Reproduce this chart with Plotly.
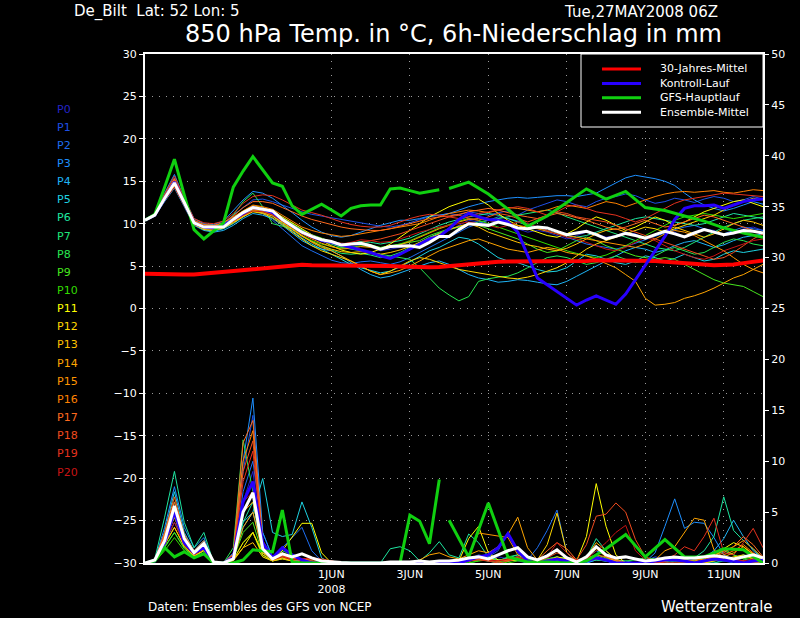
import pandas as pd
import plotly.graph_objects as go

# 6-hourly steps from 27 May 2008 06Z to 12 Jun 2008 00Z
times = pd.date_range("2008-05-27 06:00", periods=64, freq="6h")

member_names = [f"P{i}" for i in range(21)]
member_colors = ["#2424c8", "#1e50e6", "#1e6ef0", "#1e90ff", "#1eb4f5", "#1ed2e1",
                 "#1ee6a0", "#1ee678", "#28e650", "#46e61e", "#32dc00", "#ffff00",
                 "#ffd700", "#ffc000", "#ffa500", "#ff9600", "#ff8200", "#ff6a1e",
                 "#f04b1e", "#e6321e", "#c81414"]

# 850 hPa temperature of the ensemble members (°C)
t_p0 = [10.4, 11.0, 13.2, 15.0, 12.6, 10.2, 9.8, 9.6, 9.8, 10.6, 11.4, 12.0, 11.8, 11.4, 10.6, 9.8,
        9.0, 8.4, 8.0, 7.6, 7.2, 7.3, 7.5, 7.2, 6.8, 7.0, 7.2, 7.4, 7.6, 8.2, 8.8, 9.2,
        9.8, 10.4, 10.2, 9.9, 10.4, 10.0, 9.4, 9.0, 9.2, 9.0, 8.6, 8.2, 8.6, 9.0, 8.8, 8.4,
        8.6, 9.0, 8.8, 8.2, 8.6, 9.2, 9.0, 8.4, 8.8, 9.4, 9.2, 8.6, 8.8, 9.4, 9.6, 9.2]
t_p1 = [10.4, 11.1, 13.4, 15.4, 12.8, 10.4, 9.9, 9.8, 10.1, 11.0, 12.0, 12.8, 12.9, 12.6, 12.2, 11.8,
        11.4, 11.1, 10.9, 10.7, 10.5, 10.3, 10.1, 9.9, 9.7, 9.6, 9.8, 10.1, 10.5, 10.8, 11.0, 11.2,
        11.0, 11.4, 11.2, 11.0, 11.3, 11.5, 11.0, 11.6, 12.0, 12.4, 12.8, 12.6, 12.2, 12.0, 12.6, 13.0,
        13.2, 13.5, 13.3, 12.8, 12.4, 12.6, 13.0, 12.8, 12.5, 12.9, 13.2, 13.0, 12.6, 12.8, 13.2, 12.9]
t_p2 = [10.4, 11.0, 13.1, 15.0, 12.6, 10.2, 9.6, 9.5, 9.8, 10.4, 11.1, 11.6, 11.2, 10.4, 9.4, 8.4,
        7.4, 6.8, 6.2, 5.7, 5.4, 5.3, 5.5, 5.6, 5.4, 5.2, 5.5, 6.0, 6.6, 7.2, 7.8, 8.4,
        9.0, 9.6, 10.0, 10.4, 10.8, 10.6, 10.3, 10.0, 9.6, 9.2, 8.8, 8.4, 8.0, 7.6, 7.4, 7.2,
        7.0, 7.3, 7.7, 8.1, 8.5, 8.9, 9.3, 9.6, 9.8, 9.4, 9.0, 8.8, 9.2, 9.6, 9.4, 9.2]
t_p3 = [10.4, 11.2, 13.6, 15.8, 13.0, 10.6, 10.0, 9.9, 10.3, 11.5, 12.8, 13.8, 13.6, 13.0, 12.2, 11.3,
        10.4, 9.6, 9.0, 8.6, 8.4, 8.6, 9.0, 9.4, 9.8, 10.1, 10.4, 10.4, 10.6, 10.9, 11.0, 11.2,
        11.6, 12.0, 12.3, 12.6, 12.8, 13.0, 13.1, 13.0, 13.1, 13.2, 13.3, 13.3, 13.2, 13.4, 13.6, 14.2,
        14.8, 15.4, 15.7, 15.5, 15.3, 15.0, 14.5, 13.6, 12.8, 12.2, 11.8, 11.5, 11.8, 12.2, 12.6, 12.3]
t_p4 = [10.4, 10.9, 12.6, 14.2, 12.0, 9.8, 9.2, 9.0, 9.2, 9.8, 10.6, 11.2, 11.0, 10.6, 9.8, 8.9,
        8.0, 7.4, 7.0, 6.8, 6.2, 5.4, 4.6, 4.0, 3.6, 3.8, 4.2, 4.6, 5.0, 5.4, 5.6, 5.2,
        4.6, 4.0, 3.6, 3.4, 3.1, 3.2, 3.4, 3.3, 3.1, 2.9, 2.8, 3.2, 3.8, 4.4, 5.0, 5.6,
        6.2, 6.8, 7.2, 7.0, 6.6, 6.9, 7.4, 7.8, 8.0, 7.6, 7.2, 7.5, 8.0, 8.4, 8.6, 8.8]
t_p5 = [10.3, 10.9, 12.8, 14.6, 12.2, 9.9, 9.3, 9.1, 9.4, 10.0, 10.8, 11.5, 11.3, 10.9, 10.0, 9.1,
        8.3, 7.6, 7.0, 6.4, 5.8, 5.2, 4.8, 4.5, 4.2, 4.4, 4.9, 5.5, 6.2, 6.8, 7.2, 7.8,
        8.4, 8.2, 7.6, 6.8, 6.0, 5.6, 5.4, 5.0, 4.6, 4.3, 4.4, 4.8, 5.6, 6.4, 6.2, 5.8,
        5.4, 5.2, 5.6, 6.2, 6.0, 5.6, 5.9, 6.4, 6.0, 5.6, 5.8, 6.4, 6.8, 6.6, 6.8, 7.0]
t_p6 = [10.4, 11.1, 13.2, 15.1, 12.7, 10.3, 9.8, 9.7, 10.0, 10.6, 11.3, 11.9, 11.7, 11.3, 10.6, 9.9,
        9.2, 8.6, 8.2, 7.8, 7.6, 7.7, 7.9, 7.8, 7.6, 7.8, 8.0, 8.3, 8.8, 9.3, 9.8, 10.2,
        10.5, 10.8, 11.0, 11.2, 11.0, 10.6, 10.2, 9.8, 9.5, 9.2, 8.9, 8.6, 8.4, 8.6, 9.0, 9.4,
        9.8, 10.2, 10.6, 10.8, 10.6, 10.4, 10.2, 10.0, 9.8, 10.0, 10.4, 10.8, 11.2, 11.0, 10.8, 10.6]
t_p7 = [10.5, 11.1, 13.1, 15.0, 12.6, 10.2, 9.7, 9.6, 9.9, 10.5, 11.2, 11.8, 11.6, 11.2, 10.4, 9.5,
        8.6, 7.9, 7.3, 6.9, 6.5, 6.4, 6.5, 6.3, 6.0, 6.2, 6.6, 7.2, 7.8, 8.4, 8.9, 9.3,
        9.6, 9.9, 10.2, 10.4, 10.6, 10.8, 11.0, 11.2, 11.4, 11.6, 11.3, 10.8, 10.4, 10.0, 9.6, 9.2,
        8.8, 8.4, 8.0, 7.6, 7.2, 7.0, 6.8, 7.2, 7.8, 8.4, 9.0, 9.6, 10.0, 10.4, 10.6, 10.8]
t_p8 = [10.4, 11.0, 12.8, 14.4, 12.2, 10.0, 9.5, 9.4, 9.8, 11.0, 12.6, 13.6, 12.0, 10.0, 9.7, 9.4,
        8.9, 8.4, 8.0, 7.6, 7.2, 7.0, 6.8, 6.6, 6.4, 6.2, 6.0, 5.8, 4.8, 3.6, 2.4, 1.6,
        0.9, 1.4, 3.2, 3.5, 3.7, 3.8, 4.2, 4.8, 5.4, 6.0, 6.2, 6.0, 5.6, 5.2, 5.4, 5.8,
        6.2, 5.8, 5.4, 5.6, 6.2, 6.8, 7.2, 6.8, 6.4, 6.6, 7.2, 7.8, 8.2, 8.0, 7.6, 7.4]
t_p9 = [10.5, 11.2, 13.4, 15.2, 12.8, 10.3, 9.7, 9.6, 9.9, 10.6, 11.3, 11.8, 11.6, 11.3, 10.7, 10.0,
        9.2, 8.7, 8.3, 7.9, 7.5, 7.6, 7.8, 7.5, 7.2, 7.4, 7.6, 7.8, 8.0, 8.6, 9.0, 9.4,
        9.6, 10.0, 9.8, 9.4, 9.0, 8.6, 8.2, 7.6, 7.0, 6.6, 6.8, 7.4, 8.0, 8.4, 8.0, 7.4,
        7.0, 6.6, 6.2, 6.0, 5.8, 6.0, 5.8, 5.2, 4.6, 4.0, 3.4, 3.0, 2.8, 2.6, 2.0, 1.4]
t_p10 = [10.4, 11.0, 12.9, 14.7, 12.4, 10.0, 9.5, 9.4, 9.7, 10.3, 11.0, 11.6, 11.4, 11.0, 10.2, 9.4,
         8.6, 8.0, 7.6, 7.3, 7.1, 7.2, 7.4, 7.3, 7.1, 7.3, 7.6, 8.0, 8.5, 9.0, 9.5, 9.9,
         10.3, 10.6, 10.4, 10.0, 9.6, 9.2, 8.8, 8.4, 8.0, 7.6, 7.2, 6.8, 6.5, 6.2, 6.0, 6.3,
         6.8, 7.4, 8.0, 8.6, 9.2, 9.8, 10.4, 10.8, 11.0, 11.2, 11.0, 10.8, 10.6, 10.8, 11.0, 11.2]
t_p11 = [10.4, 11.1, 13.2, 15.2, 12.7, 10.3, 9.7, 9.6, 9.9, 10.7, 11.5, 12.1, 11.9, 11.5, 10.8, 10.1,
         9.3, 8.6, 8.0, 7.4, 6.9, 6.6, 6.4, 6.6, 7.0, 7.6, 8.4, 9.2, 10.0, 10.8, 11.4, 12.0,
         12.4, 12.8, 12.9, 12.2, 11.2, 10.4, 9.8, 9.4, 9.0, 8.6, 8.4, 8.8, 9.4, 10.2, 10.8, 10.4,
         9.8, 9.2, 9.6, 10.2, 10.8, 10.4, 9.8, 10.2, 10.8, 11.4, 11.8, 12.2, 12.6, 12.8, 12.4, 12.0]
t_p12 = [10.4, 11.0, 12.8, 14.4, 12.2, 9.9, 9.3, 9.2, 9.5, 10.1, 10.8, 11.4, 11.2, 10.7, 9.9, 9.0,
         8.2, 7.4, 6.8, 6.4, 6.0, 5.6, 5.0, 4.4, 4.0, 4.4, 5.0, 5.6, 6.0, 5.8, 5.4, 5.0,
         4.6, 4.4, 4.2, 4.0, 3.8, 3.6, 3.5, 3.7, 4.0, 4.4, 4.8, 5.4, 6.2, 7.0, 7.6, 8.0,
         8.4, 8.8, 9.2, 9.6, 9.4, 9.0, 9.4, 9.8, 10.2, 10.6, 11.0, 11.6, 12.2, 12.6, 13.0, 12.8]
t_p13 = [10.4, 11.0, 13.0, 14.8, 12.4, 10.1, 9.6, 9.4, 9.6, 10.2, 10.9, 11.5, 11.3, 10.9, 10.1, 9.3,
         8.5, 7.9, 7.4, 7.0, 6.7, 6.6, 6.7, 6.6, 6.4, 6.6, 6.9, 7.3, 7.8, 8.3, 8.8, 9.3,
         9.7, 10.0, 9.6, 9.0, 8.6, 8.2, 7.8, 7.5, 7.3, 7.0, 6.8, 7.1, 7.6, 8.2, 8.8, 9.2,
         9.4, 9.0, 8.6, 8.2, 8.6, 9.2, 9.6, 9.2, 8.8, 8.4, 8.8, 9.4, 10.0, 10.4, 10.2, 9.8]
t_p14 = [10.4, 11.0, 12.9, 14.6, 12.3, 10.0, 9.4, 9.3, 9.6, 10.3, 11.0, 11.6, 11.4, 11.0, 10.2, 9.4,
         8.5, 7.8, 7.2, 6.8, 6.2, 5.6, 5.0, 4.4, 4.0, 4.2, 4.5, 5.0, 5.6, 6.2, 6.8, 7.2,
         7.6, 8.0, 8.2, 7.8, 7.4, 7.0, 6.8, 6.6, 6.9, 7.2, 7.0, 6.6, 6.4, 6.2, 5.8, 5.3,
         4.8, 4.0, 3.2, 1.2, 0.4, 0.5, 0.7, 1.2, 1.5, 1.9, 2.4, 3.0, 3.6, 4.0, 4.6, 5.2]
t_p15 = [10.4, 11.0, 13.0, 14.9, 12.5, 10.1, 9.6, 9.5, 9.8, 10.4, 11.1, 11.7, 11.5, 11.1, 10.4, 9.6,
         8.8, 8.2, 7.7, 7.3, 7.0, 7.1, 7.3, 7.2, 7.0, 7.2, 7.5, 7.9, 8.4, 8.9, 9.4, 9.8,
         10.2, 10.5, 10.6, 10.4, 10.2, 10.0, 9.8, 9.6, 9.4, 9.1, 8.8, 8.6, 8.4, 8.2, 8.0, 7.8,
         7.6, 7.4, 7.2, 7.6, 8.2, 8.8, 9.2, 9.0, 8.6, 8.0, 7.4, 6.8, 6.0, 5.2, 4.6, 4.2]
t_p16 = [10.4, 11.1, 13.3, 15.3, 12.8, 10.4, 9.9, 9.8, 10.1, 10.8, 11.6, 12.2, 12.0, 11.7, 11.0, 10.3,
         9.6, 9.2, 8.9, 8.7, 8.5, 8.6, 8.8, 9.0, 9.2, 9.4, 9.6, 9.8, 10.0, 10.4, 10.8, 11.2,
         11.4, 11.6, 11.5, 11.3, 11.6, 11.9, 11.8, 11.6, 11.4, 11.6, 12.0, 12.2, 12.0, 11.8, 12.2, 12.6,
         12.4, 12.0, 12.4, 12.8, 13.2, 13.5, 13.7, 13.8, 13.7, 13.8, 13.9, 13.7, 13.6, 13.8, 14.0, 13.9]
t_p17 = [10.4, 11.1, 13.2, 15.2, 12.7, 10.3, 9.8, 9.7, 10.1, 10.9, 11.9, 12.6, 12.6, 12.4, 11.9, 11.4,
         10.9, 10.5, 10.2, 9.9, 9.6, 9.4, 9.3, 9.2, 9.2, 9.4, 9.7, 10.0, 10.3, 10.6, 10.8, 10.9,
         11.1, 11.4, 11.6, 11.8, 11.6, 11.3, 11.0, 10.8, 10.6, 10.9, 11.2, 11.0, 10.7, 10.4, 10.0, 9.6,
         9.3, 9.6, 10.0, 10.4, 10.0, 9.6, 9.8, 10.2, 10.6, 11.0, 10.8, 10.4, 10.0, 9.6, 9.2, 8.8]
t_p18 = [10.4, 11.0, 13.1, 15.1, 12.6, 10.2, 9.7, 9.5, 9.8, 10.5, 11.2, 11.8, 11.6, 11.2, 10.5, 9.8,
         9.1, 8.6, 8.2, 7.9, 7.7, 7.6, 7.8, 8.0, 8.2, 8.5, 8.8, 9.2, 9.6, 10.0, 10.4, 10.8,
         11.0, 10.6, 10.4, 10.8, 11.2, 11.0, 10.6, 10.2, 10.6, 11.0, 11.4, 11.2, 10.8, 10.6, 10.4, 10.2,
         9.8, 9.4, 9.0, 8.6, 8.2, 7.8, 7.4, 7.0, 6.6, 6.2, 5.8, 6.0, 6.6, 7.4, 8.2, 8.8]
t_p19 = [10.4, 11.2, 13.5, 15.6, 13.0, 10.6, 10.1, 10.0, 10.3, 11.2, 12.4, 13.2, 13.4, 13.3, 12.8, 12.2,
         11.6, 11.3, 11.0, 10.6, 10.2, 9.9, 9.7, 9.6, 9.6, 9.8, 10.2, 10.6, 10.9, 11.1, 11.0, 10.8,
         10.6, 10.8, 11.2, 11.4, 11.6, 11.8, 12.0, 11.8, 11.4, 11.0, 11.4, 12.0, 12.2, 11.8, 11.4, 11.2,
         11.0, 10.6, 10.2, 10.6, 11.2, 11.8, 12.4, 12.8, 13.0, 13.2, 13.4, 13.6, 13.5, 13.4, 13.3, 13.2]
t_p20 = [10.3, 10.9, 12.7, 14.3, 12.1, 9.9, 9.5, 9.4, 9.7, 10.3, 11.0, 11.5, 11.4, 11.0, 10.3, 9.6,
         8.8, 8.3, 8.0, 7.8, 7.6, 7.8, 8.1, 8.0, 7.8, 7.9, 8.2, 8.6, 9.0, 9.3, 9.6, 9.8,
         10.0, 10.2, 10.0, 9.8, 9.5, 9.8, 10.2, 10.0, 9.6, 9.2, 8.8, 8.4, 8.2, 7.8, 7.4, 7.0,
         6.8, 7.2, 7.8, 8.4, 8.0, 7.4, 6.8, 6.4, 6.0, 5.8, 6.2, 6.8, 7.2, 7.6, 8.0, 8.2]

# 6h precipitation of the ensemble members (mm)
r_p0 = [0, 0.2, 2.5, 5.5, 2.5, 1, 2, 0, 0, 0.5, 6, 9, 1.5, 0.3, 0.5, 0.3,
        0.2, 0, 0, 0, 0, 0, 0, 0, 0, 0, 0, 0, 0, 0, 0, 0.2,
        0.3, 0.6, 0.4, 0.2, 0.6, 0.4, 0.2, 0, 0, 0.3, 0.5, 0.2, 0, 0.3, 0.6, 0.4,
        0.2, 0, 0, 0, 0.3, 0.5, 0.4, 0.2, 0, 0, 0.2, 0.4, 0.3, 0, 0.2, 0.4]
r_p1 = [0, 0.3, 3, 6, 2.8, 1.2, 2.2, 0, 0, 0.8, 9, 14.5, 2, 0.5, 0.8, 0.4,
        0.2, 0, 0, 0, 0, 0, 0, 0, 0, 0, 0, 0, 0, 0, 0, 0,
        0, 0.4, 0.8, 0.6, 1.2, 2.9, 1.0, 0.2, 0, 0, 0.3, 0.2, 0, 0, 0.4, 0.2,
        0, 0, 0, 0.2, 0.6, 0.4, 0.2, 0, 0, 0.3, 0.5, 0.2, 0, 0, 0.2, 0.3]
r_p2 = [0, 0.2, 1.8, 4, 2, 0.8, 1.5, 0, 0, 0.3, 7, 10, 3, 0.5, 1.5, 2.5,
        3.5, 1.2, 0.2, 0, 0, 0, 0, 0, 0, 0, 0, 0, 0, 0, 0, 0,
        0, 0.2, 0.5, 0.3, 0.2, 0.4, 0.6, 0.3, 1.5, 3.2, 5.2, 1.0, 0.2, 0, 0.3, 0.2,
        0, 0, 0, 0, 0.2, 0.3, 0.5, 0.4, 0.2, 0, 0, 0.3, 0.5, 0.2, 0, 0.1]
r_p3 = [0, 0.3, 3.5, 7.5, 3.5, 1.5, 2.5, 0, 0, 1, 10, 16.2, 3, 0.6, 1, 0.5,
        0.3, 0, 0, 0, 0, 0, 0, 0, 0, 0, 0, 0, 0, 0, 0, 0,
        0, 0.2, 0.3, 0.5, 0.3, 0.2, 0.4, 0.2, 0, 0.2, 0.4, 0.3, 0, 0.5, 1.2, 0.8,
        0.2, 0, 0, 0.1, 1.0, 3.6, 6.3, 3.4, 4.0, 3.9, 2.5, 0.8, 0.2, 0, 0.3, 0.2]
r_p4 = [0, 0.2, 2, 5, 2.2, 1, 1.8, 0, 0, 0.4, 3.5, 5, 1.2, 0.3, 0.6, 0.2,
        0.3, 0.2, 0, 0, 0, 0, 0, 0, 0, 0, 0, 0, 0, 0, 0, 0,
        0, 0.2, 0.4, 0.2, 0, 0.2, 0.3, 0, 0, 0, 0.2, 0.3, 0, 0, 0.3, 0.2,
        0, 0, 0, 0, 0, 0.2, 0.3, 0.2, 0.3, 0.5, 1.2, 2.4, 4.2, 2.6, 1.2, 0.4]
r_p5 = [0, 0.3, 3, 7, 3, 1.2, 2.2, 0, 0, 0.6, 4, 5, 8.3, 3, 2.6, 2.8,
        6.0, 3.5, 0.5, 0, 0, 0, 0, 0, 0, 0, 0, 0, 0, 0, 0, 0,
        0.2, 0.3, 0.6, 0.4, 0.2, 0.5, 0.8, 0.4, 0.2, 0.4, 0.6, 0.3, 0, 0.4, 0.7, 0.3,
        0, 0, 0, 0, 0.2, 0.3, 0.2, 0, 0, 0, 0.2, 0.4, 0.3, 0, 0, 0.2]
r_p6 = [0, 0.4, 4.5, 9, 4, 1.5, 3, 0, 0, 0.4, 4, 6, 1, 0.3, 0.6, 0.3,
        0, 0, 0, 0, 0, 0, 0, 0, 0, 1.4, 1.6, 1.2, 0.2, 1.0, 2.1, 0.8,
        0.5, 2.85, 2.0, 0.6, 0.3, 0.2, 0.5, 0.2, 0, 0.2, 0.4, 0.6, 0.3, 0.5, 2.4, 1.2,
        0.3, 0.2, 0, 0, 0.2, 0.4, 0.3, 0.5, 0.5, 1.2, 2.6, 6.5, 3.2, 2.2, 1.4, 0.4]
r_p7 = [0, 0.2, 2.2, 4.5, 2, 0.8, 1.6, 0, 0, 0.6, 5, 6, 1.2, 0.3, 0.6, 0.2,
        0, 0, 0, 0, 0, 0, 0, 0, 0, 0, 0, 0, 0, 0, 0, 0,
        0, 0.3, 0.5, 0.3, 0.2, 0.6, 0.8, 0.3, 0, 0.2, 0.3, 0.2, 0, 0.3, 0.5, 0.2,
        0, 0, 0, 0, 0, 0, 0.2, 0.3, 0.2, 0, 0, 0.2, 0.4, 0.8, 0.6, 0.2]
r_p8 = [0, 0.2, 1.5, 3, 1.5, 0.6, 1.2, 0, 0, 1.5, 12.1, 7, 1, 0.4, 1.2, 0.8,
        0.3, 0, 0, 0, 0, 0, 0, 0, 0, 0, 0, 0, 0, 0, 0, 0,
        0, 0, 0.2, 0.4, 0.3, 0.2, 0.3, 0.1, 0, 0, 0.2, 0.3, 0.4, 0.2, 0.3, 0.2,
        0, 0.2, 0.3, 0.5, 0.4, 0.2, 0, 0, 0, 0.3, 0.6, 1.2, 0.8, 0.4, 0.2, 0]
r_p9 = [0, 0.2, 1.6, 3, 1.4, 0.6, 1, 0, 0, 0.4, 3, 4, 0.8, 0.2, 0.4, 0.2,
        0, 0, 0, 0, 0, 0, 0, 0, 0, 0, 0, 0, 0, 0, 0, 0,
        0, 0.2, 0.3, 0.2, 0, 0.2, 0.4, 0.2, 0, 0, 0.2, 0.4, 0.2, 0.4, 0.8, 0.5,
        0.2, 0, 0, 0, 0, 0.2, 0.4, 0.3, 0.2, 0.5, 1.0, 1.4, 0.8, 0.4, 0.6, 0.3]
r_p10 = [0, 0.1, 1.2, 2.5, 1.2, 0.5, 0.9, 0, 0, 0.3, 2, 3, 0.6, 0.2, 0.5, 0.2,
         0, 0, 0, 0, 0, 0, 0, 0, 0, 0, 0, 0, 0, 0, 0, 0,
         0, 0, 0.2, 0.3, 0.2, 0, 0.2, 0.3, 0.2, 0.4, 0.6, 0.3, 0, 0.2, 0.5, 0.3,
         0, 0, 0, 0, 0.2, 0.3, 0.2, 0, 0, 0, 0.2, 0.3, 0.5, 0.6, 0.4, 0.2]
r_p11 = [0, 0.3, 2.6, 5, 2.4, 1, 1.8, 0, 0, 0.3, 1.5, 3, 1, 0.5, 1.2, 2.5,
         3.9, 3.9, 1.0, 0, 0, 0, 0, 0, 0, 0, 0, 0, 0, 0, 0, 0,
         0.2, 2.4, 3.6, 1.0, 0.3, 0.2, 0.3, 0.1, 0, 0.2, 0.6, 0.4, 0.2, 2.6, 7.8, 3.6,
         0.8, 0, 0, 0, 0, 0.2, 0.4, 0.3, 0, 0.2, 0.6, 1.4, 2.0, 1.6, 0.8, 0.3]
r_p12 = [0, 0.2, 1.8, 3.5, 1.6, 0.7, 1.2, 0, 0, 0.3, 2, 3, 0.8, 0.2, 0.5, 0.2,
         0, 0, 0, 0, 0, 0, 0, 0, 0, 0, 0, 0, 0, 0, 0, 0,
         0, 0.2, 0.4, 0.3, 0.2, 0.4, 0.5, 0.2, 0.3, 1.8, 4.9, 1.0, 0.2, 0.5, 1.4, 0.6,
         0.2, 0, 0, 0, 0, 0.2, 0.3, 0.2, 0, 0, 0.2, 0.4, 0.6, 0.8, 0.4, 0.2]
r_p13 = [0, 0.2, 1.8, 3.5, 1.7, 0.7, 1.3, 0, 0, 0.2, 1.5, 2, 0.6, 0.2, 0.4, 0.2,
         0, 0, 0, 0, 0, 0, 0, 0, 0, 0, 0, 0, 0, 0, 0, 0,
         0, 0.3, 0.6, 0.4, 0.2, 0.3, 0.4, 0.2, 0, 0.2, 0.4, 0.2, 0, 0.6, 2.0, 1.2,
         0.4, 0, 0, 0, 0.2, 0.4, 0.3, 0.2, 0, 0, 0.3, 0.6, 1.0, 1.6, 0.9, 0.3]
r_p14 = [0, 0.2, 2.2, 4.5, 2, 0.8, 1.6, 0, 0, 0.4, 3.5, 5, 1, 0.3, 0.6, 0.3,
         0, 0, 0, 0, 0, 0, 0, 0, 0, 0, 0, 0, 0.3, 0.8, 1.0, 0.6,
         0.4, 0.8, 1.2, 1.0, 1.6, 2.8, 4.5, 1.5, 0.3, 0.2, 0, 0, 0, 0.3, 0.5, 0.3,
         0, 0, 0, 0, 0.3, 1.2, 1.6, 3.0, 4.4, 4.2, 1.3, 0.5, 0.3, 0.2, 0, 0]
r_p15 = [0, 0.2, 2.4, 5, 2.2, 0.9, 1.7, 0, 0, 0.5, 5, 6, 1.4, 0.4, 0.7, 0.3,
         0, 0, 0, 0, 0, 0, 0, 0, 0, 0, 0, 0, 0, 0, 0, 0,
         0.2, 0.6, 2.95, 2.8, 2.6, 2.5, 0.8, 0.3, 0, 0.2, 0.4, 0.3, 0, 0.3, 0.6, 0.4,
         0.2, 0, 0, 0, 0, 0.2, 0.4, 0.3, 0.2, 0.4, 0.8, 1.2, 1.6, 2.2, 1.4, 0.5]
r_p16 = [0, 0.3, 2.8, 6, 2.6, 1.1, 2, 0, 0, 0.8, 10, 13, 2, 0.5, 0.8, 0.4,
         0.3, 0.4, 0.3, 0.2, 0, 0, 0, 0, 0, 0, 0, 0, 0, 0, 0, 0,
         0, 0.3, 0.5, 0.3, 0.2, 0.4, 0.6, 0.2, 0, 0.3, 0.5, 0.3, 0, 0.2, 0.4, 0.3,
         0, 0, 0, 0, 0.2, 0.4, 0.6, 0.5, 0.4, 0.3, 0.5, 0.8, 1.2, 1.8, 1.0, 0.4]
r_p17 = [0, 0.3, 3, 6.5, 2.8, 1.2, 2.2, 0, 0, 0.9, 11.8, 14, 2.2, 0.6, 1, 0.5,
         0.3, 0.2, 0, 0, 0, 0, 0, 0, 0, 0, 0, 0, 0, 0, 0, 0,
         0, 0.2, 0.4, 0.3, 0.2, 0.3, 0.5, 0.2, 0.3, 1.2, 2.0, 1.4, 0.3, 0.5, 0.8, 0.6,
         0.3, 0, 0, 0, 0, 0.2, 0.3, 0.2, 0, 0.3, 0.6, 1.0, 1.6, 2.6, 1.8, 0.6]
r_p18 = [0, 0.3, 2.6, 5.5, 2.5, 1, 1.9, 0, 0, 0.7, 9, 12, 1.8, 0.4, 0.8, 0.4,
         0.2, 0.3, 0.2, 0, 0, 0, 0, 0, 0, 0, 0, 0, 0, 0, 0, 0,
         0, 0.2, 0.4, 0.2, 0.2, 0.3, 0.5, 0.2, 0.2, 0.5, 1.0, 0.6, 0.3, 1.8, 4.6, 4.8,
         5.9, 5.0, 2.3, 0.6, 0.2, 0, 0, 0, 0, 0.2, 0.4, 0.6, 0.4, 0.2, 0, 0]
r_p19 = [0, 0.3, 2.5, 5, 2.3, 1, 1.8, 0, 0, 0.7, 8, 11, 1.6, 0.4, 0.7, 0.4,
         0.4, 0.5, 0.4, 0.2, 0, 0, 0, 0, 0, 0, 0, 0, 0, 0, 0, 0,
         0, 0.2, 0.3, 0.2, 0, 0.2, 0.4, 0.2, 0, 0.2, 0.4, 0.2, 0, 0.2, 0.4, 0.3,
         0, 0, 0, 0, 0, 0.3, 0.8, 1.6, 1.2, 2.6, 4.4, 1.0, 0.8, 2.0, 3.4, 1.5]
r_p20 = [0, 0.2, 2, 4, 1.8, 0.8, 1.4, 0, 0, 0.5, 6, 7, 1.2, 0.3, 0.6, 0.3,
         0.4, 0.5, 0.3, 0.2, 0, 0, 0, 0, 0, 0, 0, 0, 0, 0, 0, 0,
         0, 0.2, 0.5, 0.3, 0.2, 0.4, 0.6, 0.2, 0.2, 0.6, 2.0, 1.0, 0.3, 0.4, 1.2, 2.0,
         3.0, 3.7, 1.2, 0.3, 0, 0, 0, 0, 0, 0.2, 0.3, 0.5, 0.3, 0.2, 0.4, 0.2]

# 30-year climatology of 850 hPa temperature
clim_temp = [4.1, 4.05, 4.0, 4.0, 4.0, 4.0, 4.1, 4.2, 4.3, 4.4, 4.55, 4.7, 4.8, 4.9, 5.0, 5.1,
             5.15, 5.1, 5.1, 5.1, 5.1, 5.1, 5.1, 5.05, 5.0, 5.0, 4.95, 4.9, 4.85, 4.85, 4.9, 5.0,
             5.1, 5.25, 5.4, 5.5, 5.5, 5.55, 5.55, 5.55, 5.55, 5.6, 5.6, 5.6, 5.6, 5.6, 5.7, 5.7,
             5.7, 5.7, 5.7, 5.7, 5.6, 5.5, 5.45, 5.4, 5.3, 5.2, 5.1, 5.1, 5.2, 5.35, 5.5, 5.65]

# control run
ctrl_temp = [10.4, 11.0, 13.0, 14.9, 12.5, 10.1, 9.6, 9.5, 9.8, 10.5, 11.3, 11.9, 11.7, 11.3, 10.5, 9.7,
             9.0, 8.5, 8.0, 7.8, 7.5, 7.2, 6.9, 6.6, 6.2, 5.9, 6.4, 7.0, 7.6, 8.2, 8.5, 9.4,
             10.5, 11.2, 10.8, 10.5, 10.4, 10.2, 9.0, 6.2, 3.6, 2.8, 2.0, 1.2, 0.4, 1.0, 1.5, 1.0,
             0.5, 1.7, 3.4, 5.1, 6.8, 8.5, 10.5, 11.8, 12.1, 12.1, 12.2, 11.8, 12.2, 12.6, 12.8, 12.9]
ctrl_rain = [0, 0.2, 2, 5, 2, 1, 1.5, 0, 0, 0.5, 6, 8, 2, 0.5, 1.5, 0.8,
             0.3, 0, 0, 0, 0, 0, 0, 0, 0, 0, 0, 0, 0, 0, 0, 0,
             0, 0.3, 0.6, 0.8, 1.5, 2.9, 1.2, 0.2, 0, 0.2, 0.4, 0.2, 0, 0.2, 0.5, 0.3,
             0, 0, 0, 0, 0.2, 0.3, 0.3, 0.2, 0, 0.2, 0.4, 0.3, 0.2, 0, 0.2, 0.3]

# GFS main run: 6-hourly up to step 30, then 12-hourly
gfs_temp_hi = [10.4, 11.1, 14.3, 17.6, 13.4, 9.3, 8.2, 9.2, 10.1, 14.3, 16.2, 17.9, 16.3, 14.8, 14.4, 12.1,
               11.1, 11.7, 12.3, 11.6, 10.9, 11.8, 12.1, 12.2, 12.2, 14.1, 14.2, 13.9, 13.6, 13.8, 14.0]
gfs_rain_hi = [0, 0.2, 1.5, 0.6, 1.1, 0.5, 0.9, 0, 0, 0, 0.3, 1.3, 1.2, 1.1, 5.2, 0.1,
               0, 0, 0, 0, 0, 0, 0, 0, 0, 0, 0, 4.7, 4.1, 1.9, 8.2]
gfs_temp_lo = [14.15, 14.9, 13.5, 11.7, 9.7, 10.9, 12.5, 14.1, 12.9, 13.8, 11.9, 11.55, 10.9, 10.3, 9.5, 8.9, 8.4]
gfs_rain_lo = [4.2, 0.6, 5.9, 0.6, 0.1, 0.1, 0, 0.2, 1.4, 2.8, 0.6, 2.3, 0.6, 0.6, 1.4, 1.3, 0]

# ensemble mean
mean_temp = [10.4, 11.0, 13.0, 14.8, 12.5, 10.1, 9.6, 9.6, 9.6, 10.5, 11.3, 11.9, 11.7, 11.5, 10.5, 9.8,
             9.0, 8.5, 8.1, 7.9, 7.5, 7.6, 7.7, 7.4, 7.0, 7.3, 7.35, 7.4, 7.2, 7.8, 8.5, 8.5,
             9.3, 10.0, 9.9, 9.8, 10.2, 9.9, 9.5, 9.4, 9.6, 9.5, 9.1, 8.7, 8.9, 9.1, 8.7, 8.2,
             8.5, 8.85, 8.6, 8.3, 8.7, 9.1, 8.8, 8.45, 8.9, 9.3, 9.0, 8.7, 8.9, 9.2, 9.1, 8.9]
mean_rain = [0, 0.3, 2.2, 5.6, 2.4, 1.0, 1.9, 0.1, 0, 0.4, 5.0, 6.9, 1.4, 0.4, 0.9, 0.6,
             0.9, 0.5, 0.2, 0.1, 0.05, 0, 0, 0, 0, 0.1, 0.1, 0.1, 0.2, 0.1, 0.2, 0.2,
             0.3, 0.5, 0.6, 0.4, 0.8, 1.2, 1.5, 0.6, 0.3, 0.7, 1.3, 0.5, 0.1, 0.6, 1.6, 0.8,
             0.5, 0.6, 0.4, 0.2, 0.3, 0.5, 0.6, 0.5, 0.5, 0.6, 0.7, 0.6, 0.4, 0.6, 0.8, 0.5]

tick_days = ["2008-06-01", "2008-06-03", "2008-06-05", "2008-06-07", "2008-06-09", "2008-06-11"]
tick_text = ["1JUN<br>2008", "3JUN", "5JUN", "7JUN", "9JUN", "11JUN"]

legend_names = ["30-Jahres-Mittel", "Kontroll-Lauf", "GFS-Hauptlauf", "Ensemble-Mittel"]
legend_colors = ["#ff0000", "#2800ff", "#10d010", "#ffffff"]

temp_members = [t_p0, t_p1, t_p2, t_p3, t_p4, t_p5, t_p6, t_p7, t_p8, t_p9, t_p10,
                t_p11, t_p12, t_p13, t_p14, t_p15, t_p16, t_p17, t_p18, t_p19, t_p20]
rain_members = [r_p0, r_p1, r_p2, r_p3, r_p4, r_p5, r_p6, r_p7, r_p8, r_p9, r_p10,
                r_p11, r_p12, r_p13, r_p14, r_p15, r_p16, r_p17, r_p18, r_p19, r_p20]

FONT = "DejaVu Sans"
GRID = "#9a9a9a"

fig = go.Figure()

# ensemble members
for name, col, temp in zip(member_names, member_colors, temp_members):
    fig.add_trace(go.Scatter(x=times, y=temp, mode="lines", name=name,
                             line=dict(color=col, width=1)))
for name, col, rain in zip(member_names, member_colors, rain_members):
    fig.add_trace(go.Scatter(x=times, y=rain, mode="lines", name=name, yaxis="y2",
                             line=dict(color=col, width=1)))

# climatology, control, GFS main run, ensemble mean
fig.add_trace(go.Scatter(x=times, y=clim_temp, mode="lines", line=dict(color="#ff0000", width=4)))
fig.add_trace(go.Scatter(x=times, y=ctrl_temp, mode="lines", line=dict(color="#2800ff", width=3)))
fig.add_trace(go.Scatter(x=times, y=ctrl_rain, mode="lines", yaxis="y2",
                         line=dict(color="#2800ff", width=3)))
fig.add_trace(go.Scatter(x=times[:31], y=gfs_temp_hi, mode="lines", line=dict(color="#10d010", width=3)))
fig.add_trace(go.Scatter(x=times[31::2], y=gfs_temp_lo, mode="lines", line=dict(color="#10d010", width=3)))
fig.add_trace(go.Scatter(x=times[:31], y=gfs_rain_hi, mode="lines", yaxis="y2",
                         line=dict(color="#10d010", width=3)))
fig.add_trace(go.Scatter(x=times[31::2], y=gfs_rain_lo, mode="lines", yaxis="y2",
                         line=dict(color="#10d010", width=3)))
fig.add_trace(go.Scatter(x=times, y=mean_temp, mode="lines", line=dict(color="#ffffff", width=3)))
fig.add_trace(go.Scatter(x=times, y=mean_rain, mode="lines", yaxis="y2",
                         line=dict(color="#ffffff", width=3)))


# pixel -> paper coordinates (plot area is x 145..763, y 54..563)
def px(x):
    return (x - 145) / 618


def py(y):
    return (563 - y) / 509


shapes = [dict(type="rect", xref="paper", yref="paper", x0=px(581), x1=1, y0=py(127), y1=1,
               line=dict(color="white", width=1), fillcolor="black", layer="above")]
annotations = []
for i, (txt, col) in enumerate(zip(legend_names, legend_colors)):
    yy = 69 + i * 14.4
    shapes.append(dict(type="line", xref="paper", yref="paper", x0=px(602), x1=px(641),
                       y0=py(yy), y1=py(yy), line=dict(color=col, width=3), layer="above"))
    annotations.append(dict(text=txt, xref="paper", yref="paper", x=px(658), y=py(yy),
                            xanchor="left", yanchor="middle", showarrow=False,
                            font=dict(size=11, color="white", family=FONT)))

for i, (name, col) in enumerate(zip(member_names, member_colors)):
    annotations.append(dict(text=name, xref="paper", yref="paper", x=px(55), y=py(109 + i * 18.15),
                            xanchor="left", yanchor="middle", showarrow=False,
                            font=dict(size=11, color=col, family=FONT)))

annotations += [
    dict(text="De_Bilt\u00a0\u00a0Lat: 52 Lon: 5", xref="paper", yref="paper", x=px(72), y=py(12),
         xanchor="left", yanchor="middle", showarrow=False, font=dict(size=15, color="white", family=FONT)),
    dict(text="Tue,27MAY2008 06Z", xref="paper", yref="paper", x=px(720), y=py(12),
         xanchor="right", yanchor="middle", showarrow=False, font=dict(size=15, color="white", family=FONT)),
    dict(text="850 hPa Temp. in °C, 6h-Niederschlag in mm", xref="paper", yref="paper", x=px(453), y=py(34),
         xanchor="center", yanchor="middle", showarrow=False, font=dict(size=24, color="white", family=FONT)),
    dict(text="Daten: Ensembles des GFS von NCEP", xref="paper", yref="paper", x=px(146), y=py(607),
         xanchor="left", yanchor="middle", showarrow=False, font=dict(size=12, color="white", family=FONT)),
    dict(text="Wetterzentrale", xref="paper", yref="paper", x=px(775), y=py(607),
         xanchor="right", yanchor="middle", showarrow=False, font=dict(size=15, color="white", family=FONT)),
]

fig.update_layout(
    width=800, height=618,
    paper_bgcolor="black", plot_bgcolor="black",
    margin=dict(l=145, r=37, t=54, b=55),
    showlegend=False,
    font=dict(family=FONT, color="white", size=11),
    shapes=shapes, annotations=annotations,
    xaxis=dict(type="date", range=[times[0], times[63]], tickvals=tick_days, ticktext=tick_text,
               showgrid=True, gridcolor=GRID, griddash="1px,6px", gridwidth=1,
               showline=True, linecolor="white", linewidth=2, mirror=True,
               ticks="", tickfont=dict(size=11, color="white"), zeroline=False),
    yaxis=dict(range=[-30, 30], dtick=5, tick0=-30, showgrid=True, gridcolor=GRID, griddash="1px,6px",
               showline=True, linecolor="white", linewidth=2, ticks="outside", ticklen=4,
               tickcolor="white", tickfont=dict(size=11, color="white"), zeroline=False),
    yaxis2=dict(range=[0, 50], dtick=5, overlaying="y", side="right", anchor="x", showgrid=False,
                showline=True, linecolor="white", linewidth=2, ticks="outside", ticklen=4,
                tickcolor="white", tickfont=dict(size=11, color="white"), zeroline=False),
)

# drop the default page margin so the 800x618 figure fills the window
fig.write_html("out.html", config={"displayModeBar": False},
               post_script="document.body.style.margin='0px';")
